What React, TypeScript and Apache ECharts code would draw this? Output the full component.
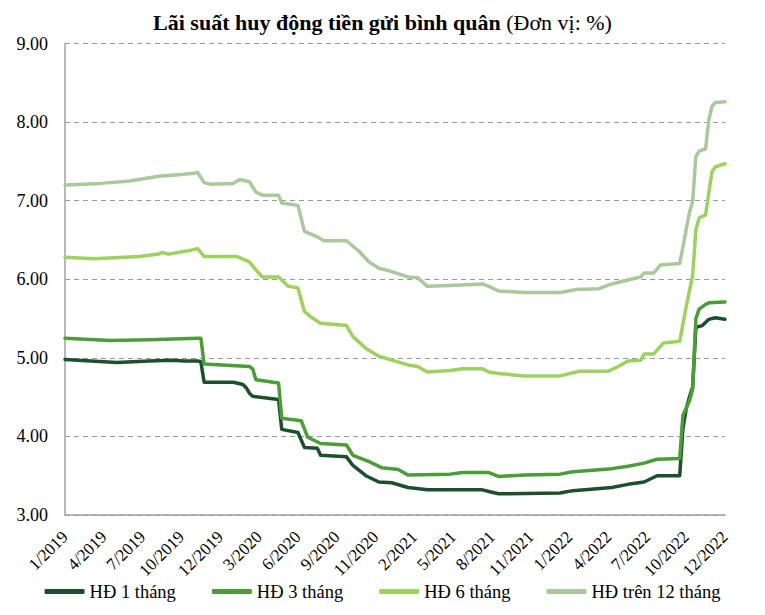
import React, { useEffect, useRef } from 'react';
import * as echarts from 'echarts';

const tickLabels = ['1/2019', '4/2019', '7/2019', '10/2019', '12/2019', '3/2020', '6/2020', '9/2020', '11/2020', '2/2021', '5/2021', '8/2021', '11/2021', '1/2022', '4/2022', '7/2022', '10/2022', '12/2022'];
const seriesNames = ['HĐ 1 tháng', 'HĐ 3 tháng', 'HĐ 6 tháng', 'HĐ trên 12 tháng'];
const seriesColors = ['#1d4f2e', '#4c9c38', '#9dd25f', '#a9c99b'];

// [week index counted from 1/2019, rate %]
const hd1 = [[0, 4.98], [8, 4.96], [16, 4.94], [26, 4.96], [33, 4.97], [37, 4.96], [41, 4.96], [42, 4.95], [43, 4.69], [52, 4.69], [55, 4.66], [56, 4.62], [57, 4.55], [58, 4.51], [66, 4.47], [67, 4.09], [72, 4.05], [74, 3.86], [78, 3.85], [79, 3.76], [87, 3.74], [89, 3.63], [93, 3.50], [97, 3.42], [101, 3.41], [106, 3.35], [112, 3.32], [129, 3.32], [131, 3.30], [134, 3.27], [153, 3.28], [157, 3.31], [169, 3.35], [174, 3.39], [179, 3.42], [183, 3.50], [190, 3.50], [191, 4.10], [192, 4.35], [193, 4.50], [194, 4.63], [195, 5.39], [197, 5.41], [199, 5.49], [201, 5.51], [204, 5.49]];
const hd3 = [[0, 5.25], [14, 5.22], [26, 5.23], [41, 5.25], [42, 5.25], [43, 4.92], [57, 4.89], [58, 4.86], [59, 4.72], [66, 4.68], [67, 4.23], [73, 4.20], [75, 3.99], [79, 3.91], [87, 3.89], [89, 3.76], [94, 3.68], [98, 3.60], [103, 3.58], [106, 3.51], [119, 3.52], [123, 3.54], [131, 3.54], [134, 3.49], [142, 3.51], [153, 3.52], [157, 3.55], [169, 3.59], [174, 3.62], [179, 3.66], [183, 3.71], [190, 3.72], [191, 4.27], [193, 4.45], [194, 4.60], [195, 5.50], [196, 5.62], [198, 5.68], [199, 5.70], [204, 5.71]];
const hd6 = [[0, 6.28], [9, 6.26], [23, 6.29], [29, 6.32], [30, 6.34], [32, 6.32], [39, 6.37], [41, 6.39], [43, 6.29], [53, 6.29], [57, 6.22], [59, 6.12], [61, 6.03], [66, 6.03], [69, 5.91], [72, 5.89], [74, 5.59], [76, 5.52], [79, 5.44], [87, 5.41], [89, 5.27], [93, 5.12], [97, 5.02], [101, 4.97], [106, 4.91], [109, 4.89], [112, 4.82], [119, 4.84], [123, 4.86], [129, 4.86], [131, 4.82], [134, 4.80], [142, 4.77], [153, 4.77], [157, 4.81], [159, 4.83], [168, 4.83], [171, 4.89], [174, 4.96], [178, 4.97], [179, 5.05], [182, 5.05], [185, 5.19], [190, 5.21], [192, 5.65], [194, 6.05], [195, 6.63], [196, 6.78], [198, 6.82], [199, 7.10], [200, 7.37], [201, 7.43], [204, 7.47]];
const hd12 = [[0, 7.20], [11, 7.22], [20, 7.25], [29, 7.31], [35, 7.33], [40, 7.35], [41, 7.36], [43, 7.23], [45, 7.21], [52, 7.22], [54, 7.27], [57, 7.24], [59, 7.11], [61, 7.07], [66, 7.07], [67, 6.97], [72, 6.94], [74, 6.61], [78, 6.54], [80, 6.49], [87, 6.49], [91, 6.35], [94, 6.22], [97, 6.14], [100, 6.11], [106, 6.03], [109, 6.02], [112, 5.91], [119, 5.92], [129, 5.94], [131, 5.91], [134, 5.85], [142, 5.83], [153, 5.83], [158, 5.87], [165, 5.88], [169, 5.94], [174, 5.99], [178, 6.03], [179, 6.08], [182, 6.08], [184, 6.18], [190, 6.20], [191, 6.41], [193, 6.85], [194, 6.99], [195, 7.56], [196, 7.63], [198, 7.66], [199, 8.03], [200, 8.20], [201, 8.25], [204, 8.26]];

const seriesData = [hd1, hd3, hd6, hd12];
const FONT = 'Liberation Serif';

export default function App() {
  const ref = useRef<HTMLDivElement>(null);
  useEffect(() => {
    document.body.style.margin = '0';
    const chart = echarts.init(ref.current as HTMLDivElement, null, { renderer: 'svg' });
    chart.setOption({
      animation: false,
      backgroundColor: '#ffffff',
      textStyle: { fontFamily: FONT, fontSize: 16, color: '#000' },
      title: {
        text: '{b|Lãi suất huy động tiền gửi bình quân} {n|(Đơn vị: %)}',
        left: 'center',
        top: 6,
        textStyle: {
          fontFamily: FONT,
          fontSize: 22,
          fontWeight: 'normal',
          rich: {
            b: { fontFamily: FONT, fontSize: 22, fontWeight: 'bold', color: '#000' },
            n: { fontFamily: FONT, fontSize: 22, fontWeight: 'normal', color: '#000' },
          },
        },
      },
      legend: {
        bottom: 9,
        left: 'center',
        itemGap: 36,
        itemWidth: 40,
        itemHeight: 5,
        icon: 'roundRect',
        textStyle: { fontFamily: FONT, fontSize: 18.5, color: '#000' },
        data: seriesNames,
      },
      grid: { left: 65, right: 40, top: 43.5, bottom: 100, containLabel: false, outerBoundsMode: 'none' },
      xAxis: {
        type: 'value',
        min: 0,
        max: 204,
        interval: 12,
        axisLine: { show: true, lineStyle: { color: '#a0a0a0', width: 1.5 } },
        axisTick: { show: false },
        splitLine: { show: false },
        axisLabel: {
          rotate: 45,
          margin: 19,
          fontFamily: FONT,
          fontSize: 17,
          color: '#000',
          showMinLabel: true,
          showMaxLabel: true,
          hideOverlap: false,
          formatter: (v: number) => tickLabels[Math.round(v / 12)] ?? '',
        },
      },
      yAxis: {
        type: 'value',
        min: 3,
        max: 9,
        interval: 1,
        axisLine: { show: true, lineStyle: { color: '#a0a0a0', width: 1.5 } },
        axisTick: { show: false },
        splitLine: { show: true, lineStyle: { color: '#999999', type: [5, 4], width: 1.2 } },
        axisLabel: {
          margin: 17,
          fontFamily: FONT,
          fontSize: 18,
          color: '#000',
          formatter: (v: number) => v.toFixed(2),
        },
      },
      series: seriesNames.map((name, i) => ({
        name,
        type: 'line',
        data: seriesData[i],
        symbol: 'none',
        color: seriesColors[i],
        lineStyle: { width: 3.5, color: seriesColors[i], cap: 'round', join: 'round' },
      })),
    });
    return () => chart.dispose();
  }, []);
  return <div ref={ref} style={{ position: 'absolute', left: 0, top: 0, width: 765, height: 615 }} />;
}
